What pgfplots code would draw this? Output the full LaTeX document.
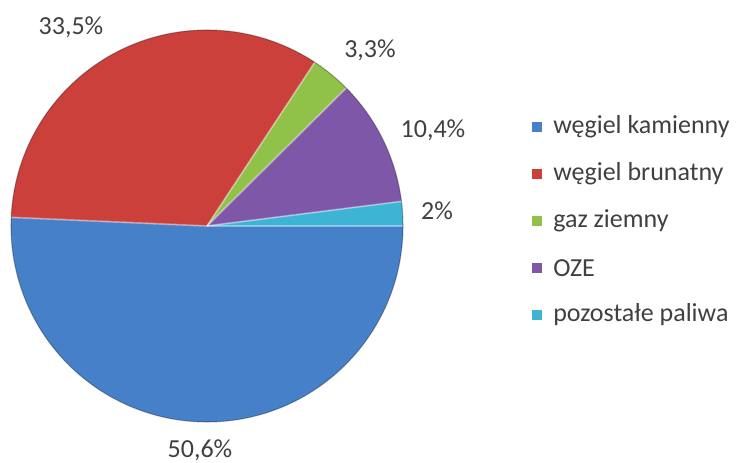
\documentclass[border=0pt]{standalone}
\usepackage{fontspec}
\setmainfont{Carlito}
\usepackage{pgfplots}
\usepackage{pgfplotstable}
\pgfplotsset{compat=1.18}
\usetikzlibrary{fadings}

\definecolor{c0}{HTML}{4680C8}
\definecolor{c1}{HTML}{CC403C}
\definecolor{c2}{HTML}{90C24A}
\definecolor{c3}{HTML}{7F57A8}
\definecolor{c4}{HTML}{3EB4D4}
\definecolor{txt}{HTML}{404040}

% ciemniejszy brzeg kola (efekt wypuklosci): czarny = przezroczysty
\pgfdeclareradialshading{rimshade}{\pgfpointorigin}{color(0bp)=(black); color(40bp)=(black); color(50bp)=(black!62); color(100bp)=(black!62)}
\pgfdeclarefading{rim}{\pgfuseshading{rimshade}}

% udzial paliw (procent), kolejnosc jak w legendzie
\pgfplotstableread{
id value
0 50.6
1 33.5
2 3.3
3 10.4
4 2
}\piedata

% katy wycinkow: start na wschodzie, zgodnie z ruchem wskazowek zegara
\def\total{0}
\pgfplotsforeachungrouped \i in {0,...,4}{%
  \pgfplotstablegetelem{\i}{value}\of\piedata
  \pgfmathsetmacro\total{\total+\pgfplotsretval}%
}
\def\cum{0}
\pgfplotsforeachungrouped \i in {0,...,4}{%
  \pgfplotstablegetelem{\i}{value}\of\piedata
  \pgfmathsetmacro\a{-(\cum/\total)*360}%
  \expandafter\xdef\csname sa\i\endcsname{\a}%
  \pgfmathsetmacro\cum{\cum+\pgfplotsretval}%
  \pgfmathsetmacro\b{-(\cum/\total)*360}%
  \expandafter\xdef\csname ea\i\endcsname{\b}%
}

\begin{document}
\begin{tikzpicture}
\begin{axis}[
  x=0.75pt, y=0.75pt,
  xmin=0, xmax=736, ymin=0, ymax=463,
  hide axis, clip=false,
]
\path (axis cs:0,0) rectangle (axis cs:736,463);
\pgfplotsinvokeforeach{0,...,4}{
  \fill[c#1] (axis cs:207,237) -- ++(\csname sa#1\endcsname:147pt)
    arc[start angle=\csname sa#1\endcsname, end angle=\csname ea#1\endcsname, radius=147pt] -- cycle;
}
\fill[black, path fading=rim] (axis cs:207,237) circle[radius=147pt];
\pgfplotsinvokeforeach{0,...,4}{
  \draw[white, opacity=0.4, line width=1.3pt] (axis cs:207,237) -- ++(\csname sa#1\endcsname:147pt);
}
\draw[black, opacity=0.3, line width=0.8pt] (axis cs:207,237) circle[radius=147pt];

\begin{scope}[every node/.style={text=txt, font=\fontsize{19.5}{23}\selectfont, inner sep=0pt}]
\node at (axis cs:71,436) {33,5\%};
\node at (axis cs:370,413) {3,3\%};
\node at (axis cs:433,333) {10,4\%};
\node at (axis cs:437,252) {2\%};
\node at (axis cs:200,13) {50,6\%};

\pgfplotsinvokeforeach{0,...,4}{
  \fill[c#1] (axis cs:532,{331-47*#1}) rectangle (axis cs:542,{341-47*#1});
}
\node[anchor=west] at (axis cs:553,336) {węgiel kamienny};
\node[anchor=west] at (axis cs:553,289) {węgiel brunatny};
\node[anchor=west] at (axis cs:553,242) {gaz ziemny};
\node[anchor=west] at (axis cs:553,195) {OZE};
\node[anchor=west] at (axis cs:553,148) {pozostałe paliwa};
\end{scope}
\end{axis}
\end{tikzpicture}
\end{document}
